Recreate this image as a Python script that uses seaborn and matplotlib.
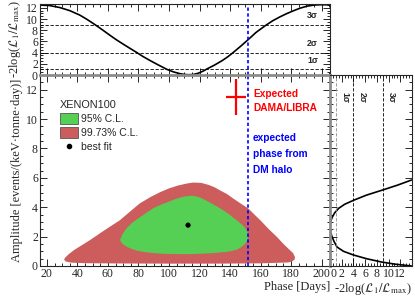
import numpy as np
import pandas as pd
import seaborn as sns
import matplotlib.pyplot as plt
from matplotlib.patches import Patch
from matplotlib.lines import Line2D
from matplotlib.ticker import MultipleLocator, AutoMinorLocator

# Values
# 99.73% C.L. contour (phase in days, amplitude)
red_phase = [31.8, 34.5, 38.0, 43.0, 48.2, 58.0, 67.9, 75.0, 81.0, 88.0, 94.1, 100.0, 106.0,
             112.0, 116.0, 121.0, 126.0, 130.0, 133.4, 138.0, 142.0, 147.0, 151.8, 156.0,
             160.0, 165.0, 170.8, 175.0, 178.5, 181.3, 182.6, 182.2, 180.5, 178.0, 160.0,
             130.0, 100.0, 70.0, 45.0, 36.0, 32.5, 31.3]
red_amp = [0.55, 0.82, 1.10, 1.42, 1.76, 2.45, 3.12, 3.75, 4.27, 4.70, 5.02, 5.28, 5.48,
           5.62, 5.68, 5.66, 5.52, 5.35, 5.15, 4.90, 4.60, 4.25, 3.93, 3.50,
           3.10, 2.55, 1.97, 1.50, 1.15, 0.88, 0.60, 0.42, 0.30, 0.24, 0.18,
           0.16, 0.16, 0.17, 0.19, 0.23, 0.30, 0.42]

# 95% C.L. contour
green_phase = [67.9, 69.5, 72.0, 76.0, 81.0, 86.0, 90.0, 95.0, 99.0, 104.0, 109.0, 113.8,
               117.0, 120.3, 124.0, 128.0, 132.0, 135.4, 139.0, 142.0, 145.5, 148.5, 150.5,
               151.6, 151.8, 151.4, 150.0, 147.5, 144.6, 141.0, 137.0, 129.0, 120.0, 113.8,
               105.0, 97.0, 92.0, 86.0, 80.0, 76.0, 72.5, 69.5]
green_amp = [1.76, 2.15, 2.55, 2.95, 3.32, 3.68, 3.95, 4.18, 4.34, 4.55, 4.70, 4.78,
             4.76, 4.66, 4.48, 4.25, 4.02, 3.80, 3.55, 3.30, 3.02, 2.75, 2.50,
             2.25, 2.00, 1.75, 1.52, 1.30, 1.12, 1.02, 0.95, 0.88, 0.83, 0.81,
             0.81, 0.83, 0.86, 0.92, 1.02, 1.14, 1.30, 1.50]

best_phase = [112.5]
best_amp = [2.78]

# profile likelihood vs phase (top panel)
prof_phase = [15.5, 22.0, 28.5, 35.0, 41.6, 46.5, 51.5, 56.5, 61.3, 65.5, 69.8, 74.5, 79.0,
              83.0, 87.5, 93.0, 98.7, 103.0, 107.0, 110.0, 113.0, 116.0, 119.0, 122.0,
              125.0, 130.0, 135.0, 138.5, 142.0, 147.0, 151.8, 157.0, 163.0, 168.0,
              172.8, 177.0, 181.3, 186.0, 190.5, 195.0, 199.0, 205.5]
prof_val = [12.50, 12.40, 12.05, 11.50, 10.70, 9.90, 9.00, 8.05, 7.10, 6.30, 5.55, 4.75, 4.00,
            3.30, 2.60, 1.80, 1.00, 0.55, 0.25, 0.10, 0.05, 0.10, 0.30, 0.65,
            1.10, 1.80, 2.60, 3.25, 4.00, 5.15, 6.30, 7.60, 8.80, 9.70,
            10.40, 10.95, 11.45, 11.95, 12.30, 12.50, 12.55, 12.55]

# profile likelihood vs amplitude (right panel)
ampprof_val = [13.9, 11.5, 8.8, 6.2, 4.0, 2.5, 1.5, 0.8, 0.35, 0.08, 0.0,
               0.06, 0.25, 0.65, 1.2, 2.3, 4.0, 6.2, 8.8, 11.2, 13.9]
ampprof_amp = [5.85, 5.50, 5.15, 4.82, 4.47, 4.20, 3.93, 3.62, 3.30, 2.98, 2.70,
               2.45, 2.10, 1.70, 1.29, 1.00, 0.75, 0.50, 0.27, 0.12, 0.00]

sigma_levels = [1, 4, 9]
sigma_labels = ['1σ', '2σ', '3σ']

dama_phase, dama_phase_err = 144.0, 6.5
dama_amp, dama_amp_err = 11.5, 1.25
halo_phase = 152

sns.set_theme(style='ticks')
plt.rcParams['font.family'] = ['Liberation Serif', 'DejaVu Serif']
plt.rcParams['mathtext.fontset'] = 'stix'
sans = ['Liberation Sans', 'DejaVu Sans']

red = '#cd5c5c'
green = '#55d055'
grey = '#8c8c8c'

fig = plt.figure(figsize=(4.15, 3.01), dpi=100)
ax = fig.add_axes([0.0964, 0.1163, 0.6988, 0.6345])
axt = fig.add_axes([0.0964, 0.7508, 0.6988, 0.2362])
axr = fig.add_axes([0.7952, 0.1163, 0.1976, 0.6345])

xlim = (15.5, 205.5)

# ---- main panel
ax.fill(red_phase, red_amp, color=red, lw=0)
ax.fill(green_phase, green_amp, color=green, lw=0)
sns.scatterplot(x=best_phase, y=best_amp, ax=ax, color='black', s=14, edgecolor='none', zorder=5)
ax.errorbar([dama_phase], [dama_amp], xerr=dama_phase_err, yerr=dama_amp_err,
            fmt='none', ecolor='red', elinewidth=1.6, capsize=0, zorder=5)
ax.axvline(halo_phase, color='blue', ls=(0, (2, 1.5)), lw=1.2)
ax.text(155, 12.05, 'Expected\nDAMA/LIBRA', color='red', fontsize=7.3, fontweight='bold',
        family=sans, va='top', ha='left', linespacing=1.45)
ax.text(155, 9.05, 'expected\nphase from\nDM halo', color='blue', fontsize=7.3,
        fontweight='bold', family=sans, va='top', ha='left', linespacing=1.75)

ax.set_xlim(*xlim)
ax.set_ylim(0, 13)
ax.xaxis.set_major_locator(MultipleLocator(20))
ax.xaxis.set_minor_locator(AutoMinorLocator(4))
ax.yaxis.set_major_locator(MultipleLocator(2))
ax.yaxis.set_minor_locator(AutoMinorLocator(4))
ax.set_ylabel('Amplitude [events/(keV·tonne·day)]', fontsize=9, labelpad=2)
ax.set_xlabel('Phase [Days]', fontsize=9, loc='right', labelpad=1)

handles = [Patch(facecolor=green, edgecolor='#555555', lw=0.6),
           Patch(facecolor=red, edgecolor='#555555', lw=0.6),
           Line2D([], [], marker='o', color='black', ls='none', markersize=3)]
leg = ax.legend(handles, ['95% C.L.', '99.73% C.L.', 'best fit'], title='XENON100',
                loc='upper left', bbox_to_anchor=(0.055, 0.89), frameon=False,
                prop={'family': sans, 'size': 7.5}, handlelength=1.7, handleheight=1.2,
                handletextpad=0.35, labelspacing=0.3, borderaxespad=0)
leg.get_title().set_fontfamily(sans)
leg.get_title().set_fontsize(7.8)
leg._legend_box.align = 'left'

# ---- top panel
sns.lineplot(x=prof_phase, y=prof_val, ax=axt, color='black', lw=1.2, sort=False, estimator=None)
for lvl, lab in zip(sigma_levels, sigma_labels):
    axt.axhline(lvl, color='black', ls=(0, (4, 2)), lw=0.6)
    axt.text(194, lvl + 0.8, lab, fontsize=6.3, fontweight='bold', family=sans,
             ha='center', va='bottom')
axt.axvline(halo_phase, color='blue', ls=(0, (2, 1.5)), lw=1.2)
axt.set_xlim(*xlim)
axt.set_ylim(0, 12.7)
axt.xaxis.set_major_locator(MultipleLocator(20))
axt.xaxis.set_minor_locator(AutoMinorLocator(4))
axt.yaxis.set_major_locator(MultipleLocator(2))
axt.yaxis.set_minor_locator(AutoMinorLocator(4))
axt.set_xticklabels([])
axt.set_ylabel(r'-2log($\mathcal{L}_{\rm 1}/\mathcal{L}_{\rm max}$)', fontsize=9, labelpad=2)
axt.spines['bottom'].set_color(grey)
axt.spines['bottom'].set_linewidth(2)

# ---- right panel
sns.lineplot(x=ampprof_val, y=ampprof_amp, ax=axr, color='black', lw=1.2, sort=False,
             estimator=None)
for lvl, lab in zip(sigma_levels, sigma_labels):
    axr.axvline(lvl, color=grey if lvl == 1 else 'black', ls=(0, (4, 2)), lw=0.6)
    axr.text(lvl + 1.5, 11.5, lab, fontsize=6.3, fontweight='bold', family=sans,
             ha='center', va='center', rotation=270)
axr.set_xlim(0, 14)
axr.set_ylim(0, 13)
axr.xaxis.set_minor_locator(AutoMinorLocator(4))
axr.yaxis.set_major_locator(MultipleLocator(2))
axr.yaxis.set_minor_locator(AutoMinorLocator(4))
axr.set_xticks([0, 2, 4, 6, 8, 10, 12])
axr.set_yticklabels([])
axr.set_xlabel(r'-2log($\mathcal{L}_{\rm 1}/\mathcal{L}_{\rm max}$)', fontsize=9,
               loc='right', labelpad=1)
axr.spines['left'].set_color(grey)
axr.spines['left'].set_linewidth(2)

for a in (ax, axt, axr):
    a.tick_params(which='both', direction='in', top=True, right=True, labelsize=8.5,
                  pad=1.5, width=0.7)
    a.tick_params(which='major', length=5)
    a.tick_params(which='minor', length=2.5)
    for side in ('top', 'right'):
        a.spines[side].set_linewidth(0.8)
    for lab in a.get_xticklabels() + a.get_yticklabels():
        lab.set_fontfamily(['Liberation Serif', 'DejaVu Serif'])
ax.spines['left'].set_linewidth(0.8)
ax.spines['bottom'].set_linewidth(0.8)
axr.spines['bottom'].set_linewidth(0.8)
axt.spines['left'].set_linewidth(0.8)
# the right panel's "0" sits just after the main "200", as in the reference
axr.get_xticklabels()[0].set_horizontalalignment('left')

fig.savefig('out.png', dpi=100)
